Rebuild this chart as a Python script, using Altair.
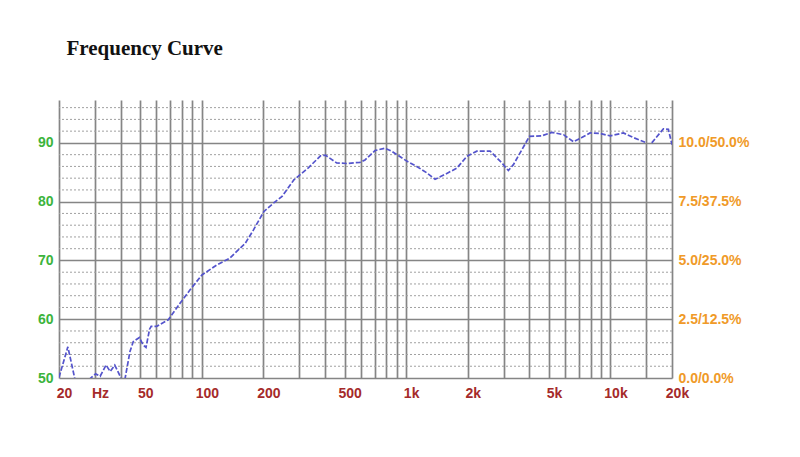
import altair as alt
import pandas as pd

# ---- data ----
seg0_f = [20, 22.1, 24.0]
seg0_db = [50.1, 55.3, 49.6]

seg1_f = [28.0, 30.2, 31.8, 34.0, 35.6, 37.5, 39.6, 40.6]
seg1_db = [49.7, 50.7, 50.3, 52.2, 51.1, 52.2, 50.5, 49.6]

seg2_f = [42.0, 44.5, 46.2, 49.5, 51.6, 53.3, 55.5, 56.5, 60.1, 68.5, 78.2, 87.6,
          99.9, 118, 137, 163, 179, 201, 225, 247, 282, 333, 381, 403, 457, 512,
          594, 629, 704, 788, 849, 1007, 1127, 1262, 1385, 1581, 1770, 1981, 2217,
          2577, 2939, 3165, 3349, 4009, 4612, 5165, 5889, 6594, 7233, 7945, 8891,
          9953, 11565, 12950, 14770]
seg2_db = [49.7, 54.5, 56.2, 56.9, 55.6, 55.2, 58.3, 58.8, 58.8, 59.9, 62.7, 65.0,
           67.5, 69.2, 70.4, 72.9, 75.2, 78.3, 79.8, 80.9, 83.7, 85.8, 87.8, 87.9, 86.6, 86.5,
           86.7, 87.1, 88.7, 89.1, 88.6, 86.9, 86.0, 84.9, 83.8, 84.8, 85.7, 87.7, 88.6,
           88.6, 86.6, 85.3, 86.3, 91.1, 91.2, 91.8, 91.4, 90.2, 90.9, 91.7, 91.6,
           91.2, 91.7, 90.9, 90.1]

seg3_f = [15920, 18150, 19200, 20000]
seg3_db = [90.0, 92.4, 92.3, 89.7]

grid_freqs = [20, 30, 40, 50, 60, 70, 80, 90, 100, 200, 300, 400, 500, 600, 700, 800, 900,
              1000, 2000, 3000, 4000, 5000, 6000, 7000, 8000, 9000, 10000, 15000, 20000]
x_label_vals = [20, 30, 50, 100, 200, 500, 1000, 2000, 5000, 10000, 20000]
x_label_txt = ["20", "Hz", "50", "100", "200", "500", "1k", "2k", "5k", "10k", "20k"]

y_major = [50, 60, 70, 80, 90]
y_right_txt = ["0.0/0.0%", "2.5/12.5%", "5.0/25.0%", "7.5/37.5%", "10.0/50.0%"]
y_minor = [52, 54, 56, 58, 62, 64, 66, 68, 72, 74, 76, 78, 82, 84, 86, 88, 92, 94, 96]

rows = []
for sid, (fs, ds) in enumerate([(seg0_f, seg0_db), (seg1_f, seg1_db),
                                (seg2_f, seg2_db), (seg3_f, seg3_db)]):
    for i, (f, d) in enumerate(zip(fs, ds)):
        rows.append({"seg": sid, "i": i, "f": f, "db": d})
curve = pd.DataFrame(rows)
minor = pd.DataFrame({"lvl": y_minor})

# label expressions
xmap = "{" + ",".join(f"'{v}':'{t}'" for v, t in zip(x_label_vals, x_label_txt)) + "}"
x_expr = f"({xmap})[''+datum.value] || ''"
rmap = "{" + ",".join(f"'{v}':'{t}'" for v, t in zip(y_major, y_right_txt)) + "}"
r_expr = f"({rmap})[''+datum.value] || ''"

xscale = alt.Scale(type="log", domain=[20, 20000], nice=False)
yscale = alt.Scale(domain=[50, 97.3], nice=False, zero=False)

GRID = "#858585"
LFONT = "Liberation Sans"
LSIZE = 14

x_axis = alt.Axis(values=grid_freqs, labelExpr=x_expr, grid=True, gridColor=GRID,
                  gridWidth=1.7, gridOpacity=1, ticks=False, domain=False,
                  labelColor="#a52a2a", labelFont=LFONT, labelFontSize=LSIZE,
                  labelFontWeight="bold", labelPadding=8, labelOverlap=False,
                  labelOffset=5, labelAlign="center", title=None, labelFlush=False)

left_axis = alt.Axis(values=y_major, grid=True, gridColor=GRID, gridWidth=1.7,
                     gridOpacity=1, ticks=False, domain=False, labelColor="#3cb43c",
                     labelFont=LFONT, labelFontSize=LSIZE, labelFontWeight="bold",
                     labelPadding=6, title=None, orient="left")

right_axis = alt.Axis(values=y_major, labelExpr=r_expr, grid=False, ticks=False,
                      domain=False, labelColor="#f09a28", labelFont=LFONT,
                      labelFontSize=LSIZE, labelFontWeight="bold", labelPadding=6,
                      title=None, orient="right")

dotted = alt.Chart(minor).mark_rule(color="#a0a0a0", strokeDash=[2, 2], strokeWidth=1).encode(
    y=alt.Y("lvl:Q", scale=yscale, axis=left_axis)
)

line = alt.Chart(curve).mark_line(color="#5454cc", strokeWidth=1.7, strokeDash=[5, 2],
                                  clip=True).encode(
    x=alt.X("f:Q", scale=xscale, axis=x_axis),
    y=alt.Y("db:Q", scale=yscale, axis=right_axis),
    detail="seg:N",
    order="i:Q",
)

chart = alt.layer(dotted, line).resolve_axis(y="independent").properties(
    width=613,
    height=278,
    autosize=alt.AutoSizeParams(type="none"),
    padding={"left": 51, "top": 92, "right": 120, "bottom": 70},
    background="white",
    title=alt.TitleParams("Frequency Curve", anchor="start", dx=29, offset=41,
                          font="Liberation Serif", fontSize=21, fontWeight="bold",
                          color="#111111"),
).configure_view(strokeWidth=0)

chart.save("out.html", embed_options={"renderer": "svg", "actions": False})
